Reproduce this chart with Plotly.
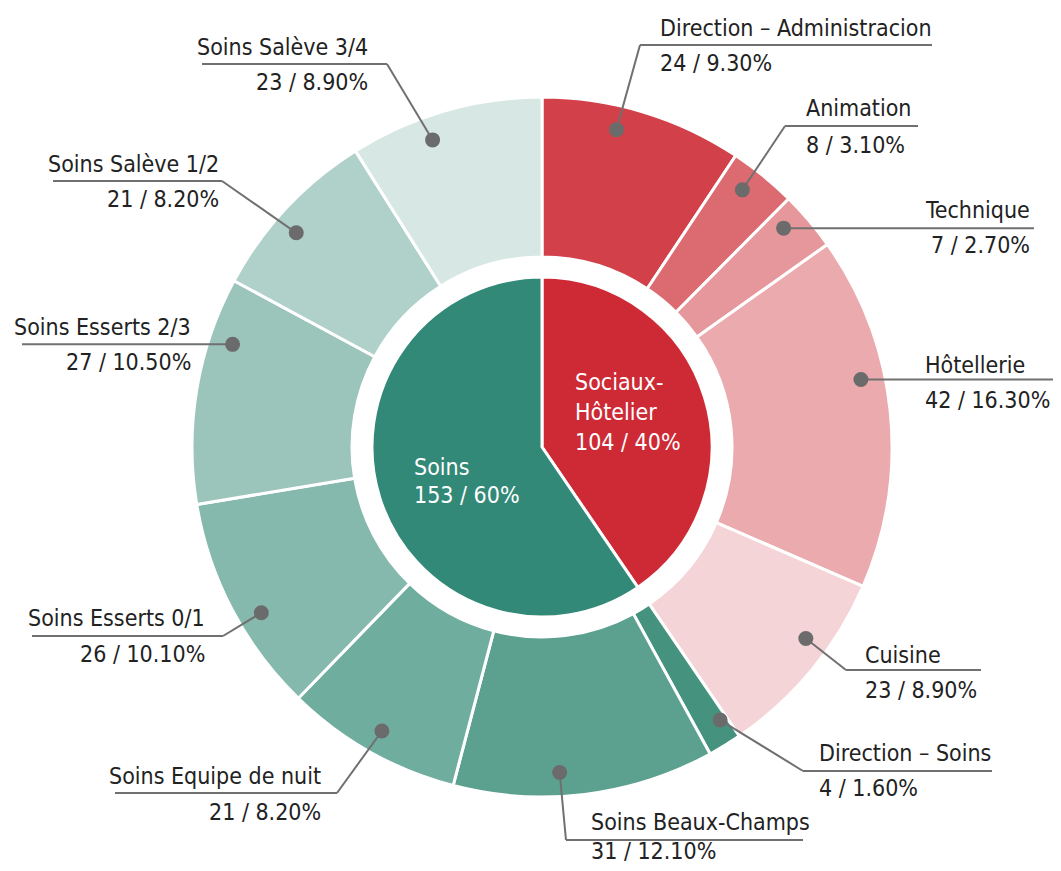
import math
import plotly.graph_objects as go

# ---------------- data ----------------
inner_labels = ["Sociaux-Hôtelier", "Soins"]
inner_values = [104, 153]
inner_pct = ["40%", "60%"]

outer_labels = ["Direction – Administracion", "Animation", "Technique", "Hôtellerie",
                "Cuisine", "Direction – Soins", "Soins Beaux-Champs",
                "Soins Equipe de nuit", "Soins Esserts 0/1", "Soins Esserts 2/3",
                "Soins Salève 1/2", "Soins Salève 3/4"]
outer_values = [24, 8, 7, 42, 23, 4, 31, 21, 26, 27, 21, 23]
outer_pct = ["9.30%", "3.10%", "2.70%", "16.30%", "8.90%", "1.60%", "12.10%",
             "8.20%", "10.10%", "10.50%", "8.20%", "8.90%"]

# ---------------- style ----------------
inner_colors = ["#CE2A36", "#338977"]
outer_colors = ["#D2404A", "#DC6B71", "#E6979B", "#EBAAAD", "#F5D4D7",
                "#45937F", "#5CA190", "#6FAD9F", "#86B9AD", "#9BC5BB",
                "#AFD1C9", "#D7E8E4"]

WIN_W, WIN_H = 1061, 871
OFF = 8  # default page body margin
W, H = WIN_W - 2 * OFF, WIN_H - 2 * OFF
CX, CY = 542, 447
R_OUT, R_RING_IN, R_IN = 350, 190, 170
R_DOT = 326
FONT = "DejaVu Sans Condensed, Liberation Sans Narrow, sans-serif"
FS = 23
TXT = "#222222"
LINE = "#707070"

# label layout: angle nudge, elbow point, underline end x, text x, anchor, title y, value y
label_layout = [
    (-3.6, (640, 45), 932, 658, "left", 28, 63),
    (-1.3, (785, 126), 918, 804, "left", 108, 145),
    (-1.9, None, 1034, 1032, "right", 210, 245),
    (-6.0, None, 1056, 923, "left", 365, 400),
    (-3.6, (846, 670), 981, 863, "left", 655, 690),
    (-1.6, (803, 771), 992, 817, "left", 753, 788),
    (3.9, (566, 840), 803, 589, "left", 822, 851),
    (0.0, (337, 793), 115, 323, "right", 776, 812),
    (-2.9, (223, 636), 32, 207, "right", 618, 654),
    (8.9, None, 22, 193, "right", 327, 362),
    (-2.0, (222, 181), 53, 221, "right", 164, 199),
    (-3.5, (387, 64), 202, 370, "right", 47, 82),
]


def px(x):
    return (x - OFF) / W


def py(y):
    return 1 - (y - OFF) / H


def domain(r):
    return dict(x=[px(CX - r), px(CX + r)], y=[py(CY + r), py(CY - r)])


fig = go.Figure()
fig.add_trace(go.Pie(
    labels=outer_labels, values=outer_values, sort=False, direction="clockwise",
    rotation=0, hole=R_RING_IN / R_OUT, domain=domain(R_OUT),
    marker=dict(colors=outer_colors, line=dict(color="white", width=3)),
    textinfo="none", showlegend=False, hoverinfo="label+value"))
fig.add_trace(go.Pie(
    labels=inner_labels, values=inner_values, sort=False, direction="clockwise",
    rotation=0, domain=domain(R_IN),
    marker=dict(colors=inner_colors, line=dict(color="white", width=3)),
    textinfo="none", showlegend=False, hoverinfo="label+value"))

shapes = []
annotations = []
total = sum(outer_values)
cum = 0
for lab, val, pct, lay in zip(outer_labels, outer_values, outer_pct, label_layout):
    nudge, elbow, end_x, tx, anchor, ty, vy = lay
    mid = (cum + val / 2) / total * 360 + nudge
    cum += val
    dx = CX + R_DOT * math.sin(math.radians(mid))
    dy = CY - R_DOT * math.cos(math.radians(mid))
    if elbow is None:
        ex, ey = dx, dy
    else:
        ex, ey = elbow
        shapes.append(dict(type="line", xref="paper", yref="paper",
                           x0=px(dx), y0=py(dy), x1=px(ex), y1=py(ey),
                           line=dict(color=LINE, width=2), layer="above"))
    shapes.append(dict(type="line", xref="paper", yref="paper",
                       x0=px(ex), y0=py(ey), x1=px(end_x), y1=py(ey),
                       line=dict(color=LINE, width=2), layer="above"))
    rd = 7.5
    shapes.append(dict(type="circle", xref="paper", yref="paper",
                       x0=px(dx - rd), x1=px(dx + rd), y0=py(dy + rd), y1=py(dy - rd),
                       fillcolor="#6B6B6B", line=dict(width=0), layer="above"))
    for text, yy in ((lab, ty), (f"{val} / {pct}", vy)):
        annotations.append(dict(text=text, x=px(tx), y=py(yy), xref="paper", yref="paper",
                                xanchor=anchor, yanchor="middle", showarrow=False,
                                font=dict(family=FONT, size=FS, color=TXT)))

# inner labels
inner_text_layout = [
    (573, ["Sociaux-", "Hôtelier"], [382, 412, 442]),
    (412, ["Soins"], [467, 495]),
]
for (tx, name_lines, ys), v, p in zip(inner_text_layout, inner_values, inner_pct):
    lines = name_lines + [f"{v} / {p}"]
    for t, yy in zip(lines, ys):
        annotations.append(dict(text=t, x=px(tx), y=py(yy), xref="paper", yref="paper",
                                xanchor="left", yanchor="middle", showarrow=False,
                                font=dict(family=FONT, size=FS, color="white")))

fig.update_layout(width=W, height=H, margin=dict(l=0, r=0, t=0, b=0),
                  paper_bgcolor="white", plot_bgcolor="white",
                  shapes=shapes, annotations=annotations, showlegend=False)
fig.write_html("out.html")
